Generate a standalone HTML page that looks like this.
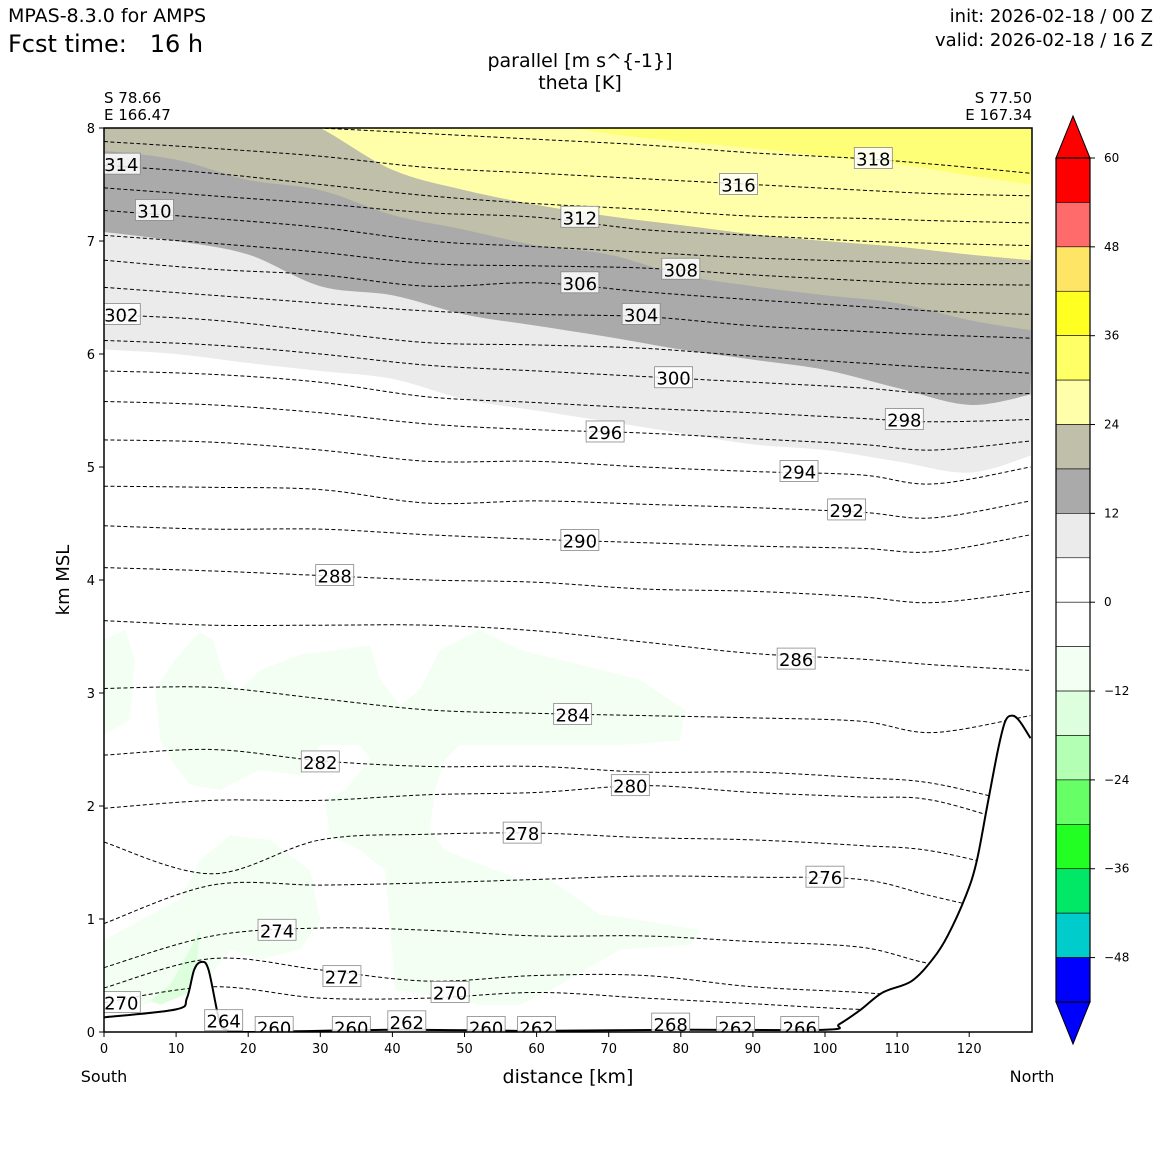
<!DOCTYPE html>
<html><head><meta charset="utf-8"><style>
html,body{margin:0;padding:0;background:#fff;}
svg{display:block;font-family:"DejaVu Sans","Liberation Sans",sans-serif;}
</style></head><body>
<svg id="chart" width="1160" height="1160" viewBox="0 0 1160 1160" xmlns="http://www.w3.org/2000/svg">
<defs><clipPath id="plotclip"><rect x="104" y="128" width="928" height="904"/></clipPath></defs>
<text x="8" y="22" font-size="19">MPAS-8.3.0 for AMPS</text>
<text x="8" y="52" font-size="24" xml:space="preserve">Fcst time:   16 h</text>
<text x="1153" y="22" font-size="18" text-anchor="end">init: 2026-02-18 / 00 Z</text>
<text x="1153" y="46" font-size="18" text-anchor="end">valid: 2026-02-18 / 16 Z</text>
<text x="580" y="67" font-size="19" text-anchor="middle">parallel [m s^{-1}]</text>
<text x="580" y="89" font-size="19" text-anchor="middle">theta [K]</text>
<text x="104" y="103" font-size="15">S 78.66</text>
<text x="104" y="120" font-size="15">E 166.47</text>
<text x="1032" y="103" font-size="15" text-anchor="end">S 77.50</text>
<text x="1032" y="120" font-size="15" text-anchor="end">E 167.34</text>
<g id="plot" clip-path="url(#plotclip)"></g>
<g id="overlay"></g>
<text transform="translate(69,580) rotate(-90)" font-size="18" text-anchor="middle">km MSL</text>
<text x="568" y="1083" font-size="19" text-anchor="middle">distance [km]</text>
<text x="104" y="1082" font-size="16" text-anchor="middle">South</text>
<text x="1032" y="1082" font-size="16" text-anchor="middle">North</text>
<g id="cbar"></g>
</svg>
<script>
// ---- data ----
const bandX = [0,10,20,30,40,50,60,70,80,90,100,110,120,128.5];
const band6  = [6.04,6.0,5.92,5.85,5.78,5.6,5.5,5.4,5.3,5.2,5.15,5.05,4.95,5.1];
const band12 = [7.08,7.0,6.88,6.6,6.52,6.35,6.25,6.15,6.04,5.95,5.86,5.7,5.55,5.64];
const band18 = [7.8,7.72,7.54,7.45,7.23,7.1,6.96,6.88,6.7,6.6,6.52,6.45,6.3,6.21];
const band24 = [8.3,8.3,8.3,8.0,7.63,7.45,7.32,7.22,7.14,7.06,7.0,6.95,6.88,6.83];
const band30 = [8.5,8.5,8.5,8.5,8.5,8.4,8.08,7.95,7.88,7.82,7.75,7.68,7.58,7.5];
const greenMainX = [7.1,9.8,13.3,15.1,16.8,18.9,21.6,27.2,36.9,38.3,41.1,43.8,46.6,52.1,57.7,66.0,74.3,80.6,79.9,71.6,60.5,49.4,47.3,45.9,45.2,47.3,50.8,57.7,61.9,68.8,74.3,82.7,81.3,71.6,61.9,57.7,52.1,45.2,40.4,39.7,39.0,35.5,31.3,30.7,33.4,36.9,35.5,30.0,27.2,21.6,16.1,11.9,9.8,7.8];
const greenMainZ = [3.03,3.29,3.54,3.47,3.12,3.03,3.20,3.34,3.42,3.12,2.89,3.03,3.38,3.56,3.38,3.25,3.12,2.85,2.58,2.54,2.54,2.54,2.41,2.14,1.79,1.61,1.52,1.35,1.35,1.04,0.99,0.90,0.77,0.73,0.37,0.24,0.24,0.33,0.37,0.90,1.43,1.61,1.74,2.05,2.14,2.41,2.54,2.54,2.27,2.32,2.14,2.19,2.36,2.58];
const greenLeftX = [0,2.9,4.3,3.6,0];
const greenLeftZ = [3.47,3.56,3.29,2.76,2.63];
const greenLowX = [0,5,10.5,13.3,17.5,23,28.6,30,27.2,21.6,17.5,13.3,9.2,0];
const greenLowZ = [0.81,0.99,1.17,1.52,1.74,1.70,1.43,0.99,0.73,0.64,0.73,0.37,0.28,0.19];
const greenDarkX = [6.4,9.2,11.9,13.3,12.6,7.8];
const greenDarkZ = [0.28,0.42,0.73,0.9,0.37,0.24];
const terrainX = [0,10,11.5,12.5,13.5,14.5,16,17,20,40,60,80,100,102,105,108,112,115,117,119.5,121,122.5,124,125,126,127,128.5];
const terrainZ = [0.13,0.2,0.3,0.55,0.62,0.55,0.1,0.02,0.0,0.02,0.01,0.02,0.02,0.07,0.2,0.35,0.45,0.65,0.85,1.2,1.5,2.0,2.5,2.75,2.8,2.75,2.6];
const thetaX = [0,15,30,45,60,75,90,105,115,128.5];
const thetaLevels = [318,316,314,312,310,308,306,304,302,300,298,296,294,292,290,288,286,284,282,280,278,276,274,272,270];
const thetaZ = [
[8.1,8.05,8.0,7.95,7.9,7.85,7.78,7.73,7.68,7.6],
[7.88,7.82,7.75,7.65,7.6,7.55,7.5,7.45,7.42,7.4],
[7.67,7.6,7.5,7.4,7.33,7.28,7.22,7.2,7.18,7.16],
[7.47,7.4,7.33,7.25,7.21,7.1,7.05,7.0,6.98,6.96],
[7.27,7.2,7.12,7.0,6.95,6.9,6.85,6.82,6.8,6.8],
[7.05,6.98,6.9,6.8,6.78,6.76,6.7,6.65,6.62,6.61],
[6.83,6.75,6.7,6.6,6.63,6.55,6.48,6.42,6.38,6.35],
[6.59,6.52,6.45,6.38,6.35,6.33,6.25,6.2,6.17,6.14],
[6.35,6.3,6.2,6.1,6.08,6.05,5.98,5.92,5.88,5.83],
[6.12,6.08,6.0,5.9,5.85,5.8,5.75,5.7,5.65,5.65],
[5.85,5.82,5.75,5.62,5.57,5.52,5.48,5.43,5.4,5.42],
[5.58,5.55,5.48,5.38,5.33,5.3,5.25,5.2,5.15,5.23],
[5.24,5.22,5.15,5.05,5.05,5.0,4.96,4.93,4.85,5.0],
[4.83,4.82,4.8,4.68,4.7,4.67,4.64,4.6,4.55,4.7],
[4.48,4.45,4.45,4.4,4.36,4.33,4.3,4.28,4.25,4.4],
[4.11,4.08,4.04,4.0,3.98,3.92,3.9,3.85,3.8,3.9],
[3.64,3.6,3.6,3.6,3.55,3.45,3.35,3.3,3.25,3.2],
[3.04,3.05,2.95,2.85,2.82,2.8,2.78,2.75,2.65,2.8],
[2.45,2.5,2.4,2.35,2.35,2.3,2.3,2.25,2.2,2.0],
[1.98,2.05,2.05,2.1,2.12,2.18,2.12,2.08,2.05,1.8],
[1.68,1.4,1.7,1.75,1.76,1.72,1.7,1.65,1.6,1.4],
[0.96,1.3,1.3,1.32,1.35,1.38,1.37,1.35,1.2,1.0],
[0.57,0.85,0.92,0.9,0.85,0.85,0.8,0.75,0.6,0.5],
[0.39,0.65,0.55,0.45,0.5,0.5,0.4,0.35,0.3,0.3],
[0.26,0.4,0.3,0.3,0.35,0.3,0.25,0.2,0.2,0.2]];
const labelText = ["318","316","314","312","310","308","306","304","302","300","298","296","294","292","290","288","286","284","282","280","278","276","274","272","270","270","264","260","260","262","260","262","268","262","266"];
const labelX = [106.7,88,2.4,66,7,80,66,74.5,2.4,79,111,69.5,96.4,103,66,32,96,65,30,73,58,100,24,33,48,2.4,16.6,23.6,34.3,42,53,60,78.6,87.6,96.5];
const labelZ = [7.73,7.50,7.68,7.21,7.27,6.75,6.63,6.35,6.35,5.79,5.42,5.31,4.96,4.62,4.35,4.04,3.30,2.81,2.39,2.18,1.76,1.37,0.90,0.49,0.35,0.26,0.10,0.04,0.04,0.09,0.04,0.04,0.07,0.04,0.04];
const xTicks = [0,10,20,30,40,50,60,70,80,90,100,110,120];
const yTicks = [0,1,2,3,4,5,6,7,8];
const cbarColors = ["#ff0000","#ff6b6b","#ffe566","#ffff22","#ffff66","#ffffaa","#bfbfaa","#aaaaaa","#ebebeb","#ffffff","#ffffff","#f3fff3","#ddffdd","#b3ffb3","#66ff66","#22ff22","#00e866","#00cccc","#0000ff"];
const cbarTicks = ["60","48","36","24","12","0","\u221212","\u221224","\u221236","\u221248"];

// ---- axes ----
const X0=104, X1=1032, Y0=1032, Y1=128;
const sx = v => X0 + v*7.21;
const sy = v => Y0 - v*(Y0-Y1)/8;
const NS="http://www.w3.org/2000/svg";
function mk(tag, attrs, parent){const e=document.createElementNS(NS,tag);for(const k in attrs)e.setAttribute(k,attrs[k]);parent.appendChild(e);return e;}
function smooth(xs, zs){
  const p = xs.map((x,i)=>[sx(x),sy(zs[i])]);
  let d=`M${p[0][0]},${p[0][1]}`;
  for(let i=0;i<p.length-1;i++){
    const a=p[Math.max(0,i-1)],b=p[i],c=p[i+1],e=p[Math.min(p.length-1,i+2)];
    d+=` C${b[0]+(c[0]-a[0])/6},${b[1]+(c[1]-a[1])/6} ${c[0]-(e[0]-b[0])/6},${c[1]-(e[1]-b[1])/6} ${c[0]},${c[1]}`;
  }
  return d;
}
function poly(xs, zs){return xs.map((x,i)=>`${sx(x)},${sy(zs[i])}`).join(' ');}
const plot=document.getElementById('plot');
const overlay=document.getElementById('overlay');

// bands
const bands=[[band6,"#ebebeb","band-6-12"],[band12,"#aaaaaa","band-12-18"],[band18,"#bfbfaa","band-18-24"],[band24,"#ffffaa","band-24-30"],[band30,"#ffff77","band-30-36"]];
bands.forEach(b=>{
  const d = smooth(bandX,b[0]) + ` L${sx(130)},${sy(9)} L${sx(0)},${sy(9)} Z`;
  const el=mk('path',{d:d,fill:b[1]},plot);
  
  
});
// green
[[greenLeftX,greenLeftZ,"#f3fff3","green-area-left"],[greenMainX,greenMainZ,"#f3fff3","green-area-main"],[greenLowX,greenLowZ,"#f3fff3","green-area-low"],[greenDarkX,greenDarkZ,"#ddffdd","green-area-dark"]].forEach(g=>{
  const el=mk('polygon',{points:poly(g[0],g[1]),fill:g[2]},plot);
  
  
});
// theta lines
thetaLevels.forEach((lv,i)=>{
  const el=mk('path',{d:smooth(thetaX,thetaZ[i]),fill:"none",stroke:"#000","stroke-width":1,"stroke-dasharray":"4,2.5"},plot);
  
  
});
// terrain
const terrD = smooth(terrainX,terrainZ);
const tf=mk('path',{d:terrD+` L${sx(130)},${sy(-1)} L${sx(0)},${sy(-1)} Z`,fill:"#fff"},plot);


const tl=mk('path',{d:terrD,fill:"none",stroke:"#000","stroke-width":2},plot);


// labels
labelText.forEach((t,i)=>{
  const g=mk('g',{},plot);
  
  
  const cx=sx(labelX[i]), cy=sy(labelZ[i]);
  mk('rect',{x:cx-19,y:cy-11,width:38,height:21,fill:"#fff","fill-opacity":0.85,stroke:"#888","stroke-width":0.8},g);
  const tt=mk('text',{x:cx,y:cy+7,"font-size":18,"text-anchor":"middle"},g);
  tt.textContent=t;
});
// frame & ticks
const fr=mk('rect',{x:X0,y:Y1,width:X1-X0,height:Y0-Y1,fill:"none",stroke:"#000","stroke-width":1.5},overlay);


xTicks.forEach(v=>{
  const l=mk('line',{x1:sx(v),x2:sx(v),y1:Y0,y2:Y0+5,stroke:"#000"},overlay);
  
  
  const t=mk('text',{x:sx(v),y:Y0+21,"font-size":13,"text-anchor":"middle"},overlay);
  
  
  t.textContent=v;
});
yTicks.forEach(v=>{
  const l=mk('line',{x1:X0-5,x2:X0,y1:sy(v),y2:sy(v),stroke:"#000"},overlay);
  
  
  const t=mk('text',{x:X0-9,y:sy(v)+5,"font-size":13,"text-anchor":"end"},overlay);
  
  
  t.textContent=v;
});
// colorbar
const cb=document.getElementById('cbar');
const CX=1056, CW=34, CT=158, CB=1002, seg=(CB-CT)/cbarColors.length;
const up=mk('polygon',{points:`${CX},${CT} ${CX+CW/2},116 ${CX+CW},${CT}`,fill:"#ff0000",stroke:"#000","stroke-width":1},cb);


const dn=mk('polygon',{points:`${CX},${CB} ${CX+CW/2},1044 ${CX+CW},${CB}`,fill:"#0000ff",stroke:"#000","stroke-width":1},cb);


cbarColors.forEach((c,i)=>{
  const r=mk('rect',{x:CX,y:CT+i*seg,width:CW,height:seg,fill:c,stroke:"#000","stroke-width":0.6},cb);
  
  
});
mk('rect',{x:CX,y:CT,width:CW,height:CB-CT,fill:"none",stroke:"#000","stroke-width":1.2},cb);
cbarTicks.forEach((t,i)=>{
  const y=CT+i*2*seg;
  const l=mk('line',{x1:CX+CW,x2:CX+CW+5,y1:y,y2:y,stroke:"#000"},cb);
  
  
  const tx2=mk('text',{x:1104,y:y+4,"font-size":12},cb);
  
  
  tx2.textContent=t;
});
</script>
</body></html>
